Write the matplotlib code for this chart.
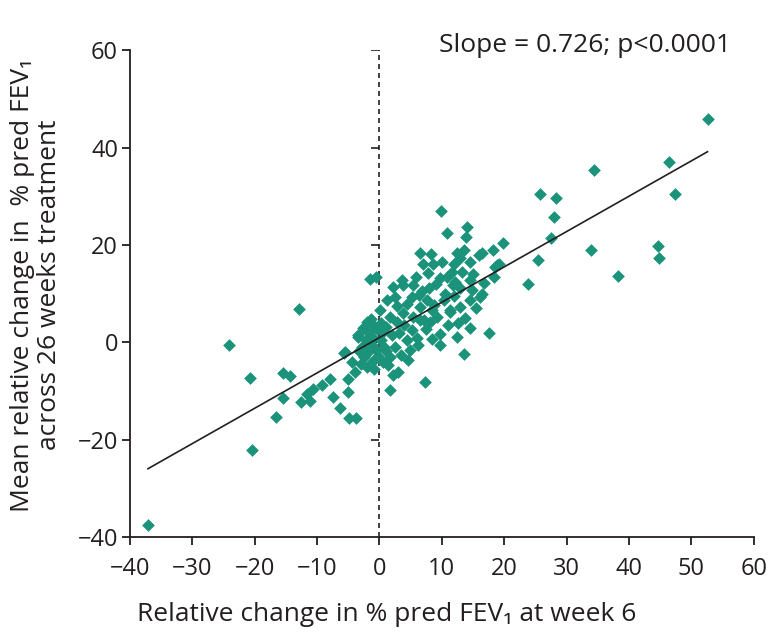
import numpy as np
import matplotlib
matplotlib.use("Agg")
import matplotlib.pyplot as plt

plt.rcParams['font.family'] = ['Open Sans', 'DejaVu Sans']

# change in % pred FEV1 at week 6 (x) vs mean change over 26 weeks (y)
x_week6 = [
    -37.1, -24.1, -20.8, -20.4, -16.6, -15.4, -14.3, -15.5, -12.9, -12.5,
    -11.1, -11.6, -10.6, -9.2, -7.9, -7.5, -6.3, -5.0, -4.9, -3.8,
    -5.7, -5.1, -3.4, -4.4, -3.9, -1.5, -0.5, -2.0, -1.0, -5.5,
    -3.4, -2.8, -2.2, -1.6, -1.0, -0.4, -2.5, -1.8, -1.2, -0.6,
    0.2, 0.6, -3.0, -2.0, -1.0, -0.2, 0.8, -1.4, -2.6, 0.3,
    -3.2, -0.8, 1.0,
    2.2, 3.8, 2.5, 5.4, 6.3, 5.2, 7.9, 9.7, 10.8, 11.6,
    13.2, 12.1, 12.9, 14.5, 14.8, 16.1, 14.5, 11.3, 12.9, 7.6,
    8.4, 6.5, 4.4, 3.8, 0.1, 1.7, 2.8, 5.4, 7.1, 9.2,
    10.3,
    9.8, 10.9, 14.1, 13.9, 19.8, 18.2, 6.5, 8.2, 7.0, 8.6,
    12.4, 13.5, 12.9, 14.5, 15.9, 12.0, 18.8, 18.3,
    14.5, 12.4, 17.5, 13.5, 9.7, 9.7, 11.3, 7.3, 3.0, 1.7,
    1.4, 4.9, 4.4, 5.2, 6.5, 8.1, 2.5, 1.7,
    16.4, 18.5, 19.1, 16.4,
    3.2, 6.0, 7.5, 8.8, 10.5, 11.0, 12.0, 13.8, 15.5, 9.0,
    4.0, 2.0, 3.5, 6.2, 8.5, 11.8, 15.0, 16.8, 5.8, 2.8,
    7.8, 10.0, 6.8, 12.6, 1.0, 1.2, 4.6, 2.2, 0.6, 3.6,
    23.9, 25.5, 27.5, 28.0, 25.8, 28.3, 34.4, 33.9, 38.2, 44.6,
    44.9, 46.4, 47.4, 52.6,
]
y_mean26 = [
    -37.5, -0.5, -7.3, -22.1, -15.4, -6.2, -6.8, -11.5, 6.8, -12.2,
    -12.1, -10.5, -9.5, -8.8, -7.4, -11.2, -13.4, -10.2, -15.6, -15.6,
    -2.1, -7.4, 1.5, -4.0, -6.0, 13.0, 13.4, 4.2, 3.6, -1.9,
    1.2, -1.0, 0.5, 2.0, 1.0, 2.8, -3.0, -2.0, -0.5, -1.5,
    0.5, 2.2, -4.5, -5.0, -3.8, -2.8, -1.0, 4.8, 3.0, 4.0,
    -1.8, -5.5, 3.2,
    11.3, 11.8, 9.4, 11.8, 9.7, 9.4, 11.1, 13.2, 13.5, 14.5,
    14.5, 12.5, 11.1, 12.8, 10.8, 9.4, 8.7, 6.6, 7.3, 8.7,
    6.6, 7.3, 8.0, 6.0, 6.6, 5.3, 4.2, 5.3, 4.6, 5.3,
    8.7,
    27.0, 22.5, 23.8, 21.7, 20.5, 19.1, 18.3, 18.2, 16.2, 16.2,
    18.3, 19.0, 17.3, 16.6, 17.9, 16.2, 15.9, 13.5,
    2.9, 1.2, 2.0, -2.3, 1.8, -0.6, 6.3, -8.1, -6.0, -9.8,
    -4.7, -1.6, 0.5, 2.5, 4.6, 4.2, -0.9, -3.0,
    18.3, 15.5, 16.2, 9.9,
    2.0, 1.0, 2.8, 7.8, 10.0, 3.5, 9.5, 5.0, 7.0, 12.0,
    3.5, 1.5, -2.5, -0.5, 0.8, 11.8, 14.0, 12.3, 13.5, 7.5,
    14.2, 16.5, 10.5, 4.0, -1.8, 8.8, -3.6, -6.6, -4.0, 12.8,
    12.0, 16.9, 21.4, 25.8, 30.5, 29.6, 35.4, 19.1, 13.7, 19.8,
    17.3, 37.1, 30.4, 46.0,
]

SLOPE = 0.726
INTERCEPT = 1.0
x_ticks = [-40, -30, -20, -10, 0, 10, 20, 30, 40, 50, 60]
y_ticks = [-40, -20, 0, 20, 40, 60]

GREEN = "#1a937a"
INK = "#231f20"

x = np.array(x_week6)
y = np.array(y_mean26)

fig = plt.figure(figsize=(7.73, 6.38), dpi=100)
ax = fig.add_axes([0.168, 0.158, 0.807, 0.763])

ax.set_xlim(-40, 60)
ax.set_ylim(-40, 60)

# dashed zero line with its own small ticks
ax.axvline(0, color=INK, lw=1.2, ls=(0, (3, 2.4)), zorder=1)
ax.plot(np.zeros(len(y_ticks) - 1), y_ticks[1:], ls="none", marker=0,
        ms=5.5, mew=1.2, color=INK, zorder=1)

ax.scatter(x, y, marker="D", s=42, color=GREEN, linewidths=0, zorder=2)

xl = np.array([x.min(), x.max()])
ax.plot(xl, SLOPE * xl + INTERCEPT, color=INK, lw=1.2, zorder=3)

for side in ["top", "right"]:
    ax.spines[side].set_visible(False)
for side in ["left", "bottom"]:
    ax.spines[side].set_linewidth(1.3)
    ax.spines[side].set_color(INK)

ax.set_xticks(x_ticks)
ax.set_yticks(y_ticks)
ax.tick_params(direction="out", length=5.5, width=1.3, color=INK,
               labelsize=17, labelcolor=INK, pad=3)
ax.tick_params(axis="x", pad=9)

ax.set_xlabel("Relative change in % pred FEV\u2081 at week 6",
              fontsize=19, color=INK)
ax.xaxis.set_label_coords(0.412, -0.133)
ax.set_ylabel("Mean relative change in  % pred FEV\u2081\nacross 26 weeks treatment",
              fontsize=19, color=INK, linespacing=1.1)
ax.yaxis.set_label_coords(-0.109, 0.518)

ax.text(0.963, 1.01, "Slope = 0.726; p<0.0001", transform=ax.transAxes,
        ha="right", va="center", fontsize=19, color=INK)

fig.savefig("out.png", dpi=100)
